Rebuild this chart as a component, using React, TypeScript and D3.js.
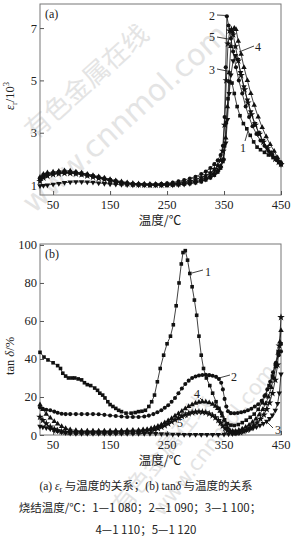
import { useEffect, useRef } from "react";
import * as d3 from "d3";

type Pt = [number, number];

// (a) permittivity εr/10^3 vs temperature
const epsA1: Pt[] = [[27,1.25],[33,1.38],[40,1.42],[50,1.45],[60,1.5],[70,1.52],[80,1.5],[90,1.48],[100,1.45],[110,1.4],[120,1.35],[130,1.3],[140,1.25],[150,1.2],[160,1.15],[170,1.1],[180,1.07],[190,1.05],[200,1.03],[210,1.02],[220,1.0],[230,1.0],[240,1.0],[250,1.0],[260,1.01],[270,1.02],[280,1.04],[290,1.06],[300,1.09],[310,1.13],[318,1.2],[326,1.28],[333,1.38],[339,1.5],[344,1.65],[348,1.9],[351,2.5],[354,3.4],[357,4.3],[360,4.95],[364,4.9],[368,4.5],[373,4.0],[378,3.65],[384,3.35],[390,3.15],[396,2.9],[402,2.65],[408,2.45],[414,2.35],[421,2.25],[428,2.15],[436,2.05],[443,1.95],[450,1.8]];
const epsA2: Pt[] = [[27,1.2],[33,1.33],[40,1.38],[50,1.42],[60,1.45],[70,1.46],[80,1.46],[90,1.44],[100,1.4],[110,1.37],[120,1.33],[130,1.28],[140,1.23],[150,1.18],[160,1.13],[170,1.09],[180,1.06],[190,1.04],[200,1.03],[210,1.03],[220,1.03],[230,1.04],[240,1.05],[250,1.07],[260,1.1],[270,1.14],[280,1.19],[290,1.25],[300,1.32],[310,1.42],[318,1.52],[326,1.65],[333,1.8],[339,1.95],[344,2.15],[348,2.5],[351,3.6],[353,5.5],[355,7.45],[358,7.1],[362,6.6],[366,6.1],[371,5.5],[376,5.0],[382,4.5],[388,4.0],[394,3.6],[400,3.25],[407,2.95],[414,2.7],[421,2.5],[428,2.3],[435,2.15],[442,2.0],[450,1.85]];
const epsA3: Pt[] = [[27,0.97],[33,0.98],[40,1.0],[50,1.03],[60,1.06],[70,1.09],[80,1.11],[90,1.12],[100,1.12],[110,1.11],[120,1.1],[130,1.08],[140,1.06],[150,1.04],[160,1.03],[170,1.02],[180,1.01],[190,1.0],[200,1.0],[210,1.0],[220,1.0],[230,1.0],[240,1.0],[250,1.0],[260,1.0],[270,1.01],[280,1.03],[290,1.06],[300,1.1],[310,1.15],[318,1.22],[326,1.3],[333,1.4],[339,1.52],[344,1.68],[349,1.95],[353,2.6],[356,3.5],[359,4.5],[362,5.2],[366,5.75],[370,5.95],[374,5.8],[379,5.3],[385,4.75],[391,4.25],[397,3.8],[404,3.35],[411,3.0],[418,2.7],[425,2.45],[432,2.25],[439,2.05],[445,1.9],[450,1.78]];
const epsA4: Pt[] = [[27,1.3],[33,1.42],[40,1.47],[50,1.5],[60,1.53],[70,1.55],[80,1.54],[90,1.5],[100,1.46],[110,1.42],[120,1.37],[130,1.32],[140,1.27],[150,1.22],[160,1.17],[170,1.13],[180,1.09],[190,1.06],[200,1.04],[210,1.03],[220,1.02],[230,1.02],[240,1.02],[250,1.03],[260,1.04],[270,1.06],[280,1.09],[290,1.12],[300,1.16],[310,1.21],[318,1.27],[326,1.35],[333,1.45],[339,1.57],[344,1.72],[349,2.0],[353,2.8],[356,4.0],[359,5.3],[362,6.3],[365,6.85],[368,7.0],[371,6.95],[375,6.5],[380,6.0],[385,5.5],[391,5.0],[397,4.5],[403,4.05],[410,3.6],[417,3.2],[424,2.85],[431,2.55],[438,2.3],[444,2.05],[450,1.85]];
const epsA5: Pt[] = [[27,1.15],[33,1.28],[40,1.35],[50,1.4],[60,1.43],[70,1.45],[80,1.45],[90,1.43],[100,1.4],[110,1.36],[120,1.31],[130,1.26],[140,1.21],[150,1.16],[160,1.12],[170,1.08],[180,1.05],[190,1.03],[200,1.02],[210,1.01],[220,1.0],[230,1.0],[240,1.0],[250,1.01],[260,1.03],[270,1.06],[280,1.1],[290,1.15],[300,1.21],[310,1.29],[318,1.37],[326,1.47],[333,1.6],[339,1.75],[344,1.95],[348,2.3],[351,3.3],[354,5.0],[357,6.4],[360,6.9],[363,6.95],[366,6.75],[370,6.3],[375,5.75],[380,5.2],[386,4.65],[392,4.15],[398,3.7],[405,3.3],[412,2.95],[419,2.65],[426,2.4],[433,2.2],[440,2.0],[446,1.88],[450,1.8]];

// (b) tan δ/% vs temperature
const tanB1: Pt[] = [[27,43.5],[34,41],[41,39.5],[50,38],[58,36.5],[63,35],[67,32.5],[72,31],[77,30],[83,30],[88,30],[94,29.5],[100,29],[105,27.5],[110,26.5],[116,26],[123,24.7],[128,23.5],[132,22],[137,21],[141,19.5],[146,17.5],[150,16],[155,15],[160,14],[165,13],[170,12.3],[178,11.5],[187,11.5],[194,11.8],[200,12.3],[206,12.5],[212,13],[218,15],[223,17.5],[228,21],[233,28],[238,35],[244,42],[250,48],[256,52],[261,58],[266,68],[271,80],[275,90],[278,96],[282,97],[286,92],[290,85],[294,78],[298,71],[302,63],[306,52],[310,42],[314,35],[319,30],[325,26],[330,22],[336,17.5],[341,14],[346,11.4],[351,8],[356,6],[362,5.2],[368,5],[375,5.5],[382,6.5],[389,7.8],[396,9.3],[403,11],[410,13.5],[417,17],[423,21],[429,26],[435,31],[440,37],[445,44],[450,48]];
const tanB2: Pt[] = [[27,14.5],[32,13.8],[38,13.3],[45,13],[52,12.3],[58,11.7],[65,11.2],[72,11],[80,11],[90,11],[100,11],[110,11],[120,11],[130,10.9],[140,10.6],[150,10.3],[160,10],[170,9.7],[180,9.5],[190,9.5],[200,9.5],[210,9.7],[218,10.2],[226,11],[233,12],[240,13],[246,14.3],[252,15.7],[258,17.5],[264,19.5],[270,22],[276,24.5],[282,26.8],[288,28.6],[294,30],[300,30.8],[306,31.3],[312,31.6],[318,31.7],[324,31.5],[330,31.2],[336,30.6],[341,29.5],[345,27.5],[348,24],[351,19],[354,15],[357,12.5],[362,11.5],[368,11.4],[374,11.6],[380,12],[386,12.4],[392,13],[398,13.8],[404,15],[410,16.2],[416,18],[421,20.5],[426,24],[431,28],[436,33],[441,38],[446,42],[450,44]];
const tanB3: Pt[] = [[27,4.5],[32,4.2],[38,3.8],[45,3.2],[52,2.5],[58,2],[65,1.5],[72,1.1],[80,0.9],[90,0.8],[100,0.8],[110,0.8],[120,0.8],[130,0.8],[140,0.8],[150,0.8],[160,0.8],[170,0.8],[180,0.8],[190,0.8],[200,0.8],[210,0.8],[220,0.75],[230,0.7],[240,0.6],[250,0.5],[260,0.4],[270,0.3],[280,0.25],[290,0.2],[300,0.2],[310,0.2],[320,0.2],[330,0.2],[340,0.25],[350,0.3],[358,0.45],[365,0.6],[371,0.9],[377,1.3],[383,1.8],[389,2.4],[395,3],[401,3.6],[407,4.3],[413,5.1],[419,6],[425,7.2],[430,8.6],[435,10.5],[440,13],[444,16.5],[447,22],[450,32]];
const tanB4: Pt[] = [[27,16],[32,13.5],[38,11],[45,9],[52,7.2],[58,5.8],[65,4.5],[72,3.5],[80,2.8],[90,2.4],[100,2.2],[110,2.2],[120,2.2],[130,2.2],[140,2.2],[150,2.2],[160,2.3],[170,2.3],[180,2.4],[190,2.5],[200,2.6],[208,2.8],[215,3],[222,3.5],[228,4],[234,4.7],[240,5.5],[246,6.5],[252,7.5],[258,8.7],[264,10],[270,11.2],[276,12.5],[282,13.8],[288,15],[294,16],[300,16.8],[306,17.3],[312,17.5],[318,17.4],[324,17],[330,16.2],[335,15.2],[339,14],[343,12.5],[347,10],[350,7.8],[353,5.5],[356,3.8],[360,2.6],[365,2],[370,2],[376,2.5],[382,3.2],[388,4.1],[394,5.2],[400,6.8],[406,8.5],[412,10.7],[418,13.5],[423,16.5],[428,20],[433,25],[437,30],[441,36],[445,43],[448,49],[450,55]];
const tanB5: Pt[] = [[27,9.5],[32,7.8],[38,6],[45,4.3],[52,3.1],[58,2.4],[65,1.9],[72,1.6],[80,1.5],[90,1.4],[100,1.4],[110,1.4],[120,1.4],[130,1.4],[140,1.4],[150,1.4],[160,1.45],[170,1.5],[180,1.55],[190,1.6],[200,1.7],[208,1.9],[215,2.1],[222,2.5],[228,2.9],[234,3.5],[240,4.2],[246,5],[252,6],[258,7],[264,8],[270,9],[276,9.9],[282,10.7],[288,11.3],[294,11.8],[300,12.1],[306,12.2],[312,12.1],[318,11.8],[324,11.2],[330,10.3],[335,9.2],[340,7.8],[344,6.3],[348,4.8],[352,3.4],[356,2.3],[360,1.6],[366,1.2],[372,1.2],[378,1.5],[384,2],[390,2.7],[396,3.7],[402,5],[408,6.5],[414,8.4],[420,10.7],[425,13.5],[430,17],[435,22],[440,29],[444,37],[447,47],[450,62]];

const seriesA = [epsA1, epsA2, epsA3, epsA4, epsA5];
const seriesB = [tanB1, tanB2, tanB3, tanB4, tanB5];
const markers = [d3.symbolSquare, d3.symbolCircle, d3.symbolTriangle, d3.symbolTriangle, d3.symbolStar];
const flipped = [false, false, true, false, false];

const xTicks = [50, 150, 250, 350, 450];
const yTicksA = [1, 3, 5, 7];
const yTicksB = [0, 20, 40, 60, 80, 100];

const serif = "'Liberation Serif', 'Times New Roman', serif";
const cjk = "'Noto Sans CJK SC', sans-serif";

export default function App() {
  const ref = useRef<SVGSVGElement>(null);

  useEffect(() => {
    if (!ref.current) return;
    const svg = d3.select(ref.current);
    svg.selectAll("*").remove();

    const m = { left: 40, right: 281 };
    const x = d3.scaleLinear().domain([27, 450]).range([m.left, m.right]);

    // watermark
    const wm = svg.append("g").attr("fill", "#e4e4e4");
    const addWm = (cx: number, cy: number, ang: number, size: number, txt: string, font: string) =>
      wm
        .append("text")
        .attr("transform", `translate(${cx},${cy}) rotate(${ang})`)
        .attr("text-anchor", "middle")
        .attr("dominant-baseline", "central")
        .attr("font-size", size)
        .attr("font-family", font)
        .text(txt);
    addWm(85, 80, -42, 26, "有色金属在线", cjk);
    addWm(125, 118, -42, 30, "www.cnnmol.com", "'DejaVu Sans', sans-serif");
    addWm(160, 452, -52, 24, "有色金属在线", cjk);
    addWm(214, 440, -52, 21, "www.cnnmol.com", "'DejaVu Sans', sans-serif");

    const panel = (
      top: number,
      bottom: number,
      yDomain: [number, number],
      yTicks: number[],
      data: Pt[][],
      tag: string,
    ) => {
      const y = d3.scaleLinear().domain(yDomain).range([bottom, top]);
      const g = svg.append("g");

      // frame
      g.append("rect")
        .attr("x", m.left)
        .attr("y", top)
        .attr("width", m.right - m.left)
        .attr("height", bottom - top)
        .attr("fill", "none")
        .attr("stroke", "#777")
        .attr("stroke-width", 1);

      // ticks (inward)
      g.append("g")
        .attr("transform", `translate(0,${bottom})`)
        .call(d3.axisTop(x).tickValues(xTicks).tickSize(4).tickFormat(() => ""))
        .call((a) => {
          a.select(".domain").remove();
          a.selectAll("line").attr("stroke", "#555");
        });
      g.append("g")
        .attr("transform", `translate(${m.left},0)`)
        .call(d3.axisRight(y).tickValues(yTicks).tickSize(4).tickFormat(() => ""))
        .call((a) => {
          a.select(".domain").remove();
          a.selectAll("line").attr("stroke", "#555");
        });

      // tick labels
      g.selectAll(".xl")
        .data(xTicks)
        .join("text")
        .attr("x", (d) => x(d))
        .attr("y", bottom + 14)
        .attr("text-anchor", "middle")
        .attr("font-size", 12.5)
        .attr("font-family", serif)
        .attr("fill", "#222")
        .text((d) => d);
      g.selectAll(".yl")
        .data(yTicks)
        .join("text")
        .attr("x", m.left - 3)
        .attr("y", (d) => y(d) + 4.5)
        .attr("text-anchor", "end")
        .attr("font-size", 12.5)
        .attr("font-family", serif)
        .attr("fill", "#222")
        .text((d) => d);

      // axis title
      g.append("text")
        .attr("x", 160)
        .attr("y", bottom + 30)
        .attr("text-anchor", "middle")
        .attr("font-size", 12.5)
        .attr("font-family", cjk)
        .attr("fill", "#222")
        .text("温度/℃");

      g.append("text")
        .attr("x", m.left + 5)
        .attr("y", top + 14)
        .attr("font-size", 12)
        .attr("font-family", serif)
        .attr("fill", "#222")
        .text(tag);

      const line = d3
        .line<Pt>()
        .x((d) => x(d[0]))
        .y((d) => y(d[1]));

      data.forEach((s, i) => {
        g.append("path")
          .datum(s)
          .attr("d", line)
          .attr("fill", "none")
          .attr("stroke", "#111")
          .attr("stroke-width", 0.8);
        const sym = d3.symbol(markers[i], i === 4 ? 18 : 13);
        g.selectAll(`.m${i}`)
          .data(s)
          .join("path")
          .attr("d", sym)
          .attr(
            "transform",
            (d) => `translate(${x(d[0])},${y(d[1])})${flipped[i] ? " rotate(180)" : ""}`,
          )
          .attr("fill", "#111");
      });
      return { g, y };
    };

    // panel (a)
    const pa = panel(4, 195, [0.62, 7.92], yTicksA, seriesA, "(a)");
    const ya = pa.g
      .append("text")
      .attr("transform", `translate(14,96) rotate(-90)`)
      .attr("text-anchor", "middle")
      .attr("font-size", 12.5)
      .attr("font-family", serif)
      .attr("fill", "#222");
    ya.append("tspan").attr("font-style", "italic").text("ε");
    ya.append("tspan").attr("font-size", 8.5).attr("dy", 3).text("r");
    ya.append("tspan").attr("dy", -3).text("/10");
    ya.append("tspan").attr("font-size", 8.5).attr("dy", -5).text("3");

    // panel (b)
    const pb = panel(244, 435, [0, 100.5], yTicksB, seriesB, "(b)");
    const yb = pb.g
      .append("text")
      .attr("transform", `translate(14,356) rotate(-90)`)
      .attr("text-anchor", "middle")
      .attr("font-size", 12.5)
      .attr("font-family", serif)
      .attr("fill", "#222");
    yb.append("tspan").text("tan ");
    yb.append("tspan").attr("font-style", "italic").text("δ");
    yb.append("tspan").text("/%");

    // curve labels
    const callout = (
      g: d3.Selection<SVGGElement, unknown, null, undefined>,
      lab: string,
      tx: number,
      ty: number,
      x1: number,
      y1: number,
      x2: number,
      y2: number,
    ) => {
      g.append("line")
        .attr("x1", x1)
        .attr("y1", y1)
        .attr("x2", x2)
        .attr("y2", y2)
        .attr("stroke", "#111")
        .attr("stroke-width", 0.8);
      g.append("text")
        .attr("x", tx)
        .attr("y", ty)
        .attr("text-anchor", "middle")
        .attr("font-size", 12)
        .attr("font-family", serif)
        .attr("fill", "#222")
        .text(lab);
    };
    callout(pa.g, "2", 212, 20, 217, 15, 226, 15.5);
    callout(pa.g, "5", 212, 41, 217, 37, 228, 39);
    callout(pa.g, "4", 258, 51, 254, 46, 239, 52);
    callout(pa.g, "3", 212, 74, 217, 69, 232, 72);
    callout(pa.g, "1", 243, 152, 245, 141, 248, 131);

    callout(pb.g, "1", 208, 276, 192, 273, 203, 270);
    callout(pb.g, "2", 234, 381, 219, 378, 230, 375);
    callout(pb.g, "4", 197, 398, 200, 398, 205, 403);
    callout(pb.g, "5", 180, 427, 185, 418, 192, 413);
    callout(pb.g, "3", 278, 434, 273, 428, 267, 422);

    // caption
    const cap = svg
      .append("g")
      .attr("font-size", 11.5)
      .attr("font-family", cjk)
      .attr("fill", "#222")
      .attr("text-anchor", "middle");
    const l1 = cap.append("text").attr("x", 146).attr("y", 490);
    l1.append("tspan").attr("font-family", serif).text("(a) ");
    l1.append("tspan").attr("font-family", serif).attr("font-style", "italic").text("ε");
    l1.append("tspan").attr("font-family", serif).attr("font-size", 8).attr("dy", 2).text("r");
    l1.append("tspan").attr("dy", -2).text(" 与温度的关系；");
    l1.append("tspan").attr("font-family", serif).text("(b) tan");
    l1.append("tspan").attr("font-family", serif).attr("font-style", "italic").text("δ");
    l1.append("tspan").text(" 与温度的关系");
    cap.append("text").attr("x", 140).attr("y", 512).text("烧结温度/℃：1—1 080；2—1 090；3—1 100；");
    cap.append("text").attr("x", 146).attr("y", 534).text("4—1 110；5—1 120");
  }, []);

  return (
    <svg
      ref={ref}
      width={292}
      height={536}
      style={{ position: "absolute", left: 0, top: 0, background: "#fff" }}
    />
  );
}
